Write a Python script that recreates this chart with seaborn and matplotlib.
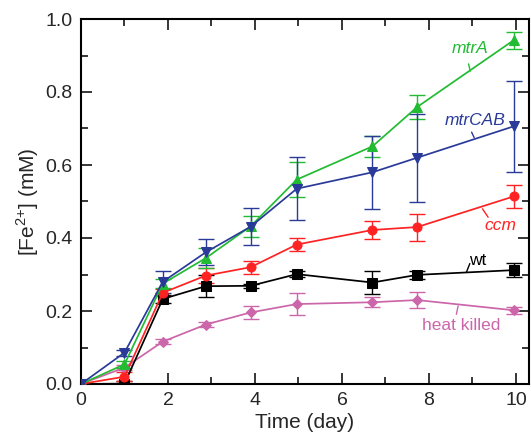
import numpy as np
import pandas as pd
import seaborn as sb
import matplotlib
matplotlib.use("Agg")
import matplotlib.pyplot as plt
from matplotlib.ticker import MultipleLocator

# sampling days
days = [0, 1.0, 1.88, 2.87, 3.9, 4.96, 6.7, 7.73, 9.95]

# mean [Fe2+] (mM) and error per strain
heat_killed = [0, 0.045, 0.116, 0.163, 0.196, 0.219, 0.224, 0.230, 0.202]
heat_killed_err = [0, 0.008, 0.006, 0.008, 0.018, 0.029, 0.014, 0.022, 0.010]
wt = [0, 0.001, 0.233, 0.268, 0.269, 0.301, 0.278, 0.299, 0.312]
wt_err = [0, 0.006, 0.012, 0.030, 0.005, 0.008, 0.032, 0.010, 0.020]
ccm = [0, 0.020, 0.250, 0.297, 0.320, 0.382, 0.422, 0.430, 0.514]
ccm_err = [0, 0.012, 0.010, 0.020, 0.018, 0.018, 0.024, 0.037, 0.032]
mtrA = [0, 0.054, 0.275, 0.345, 0.432, 0.560, 0.651, 0.759, 0.942]
mtrA_err = [0, 0.010, 0.012, 0.027, 0.028, 0.048, 0.029, 0.032, 0.023]
mtrCAB = [0, 0.086, 0.280, 0.361, 0.431, 0.535, 0.580, 0.620, 0.706]
mtrCAB_err = [0, 0.008, 0.030, 0.035, 0.050, 0.087, 0.100, 0.120, 0.124]

strains = ["heat killed", "wt", "ccm", "mtrA", "mtrCAB"]
means = [heat_killed, wt, ccm, mtrA, mtrCAB]
errs = [heat_killed_err, wt_err, ccm_err, mtrA_err, mtrCAB_err]
colors = ["#cc66aa", "#000000", "#ff2222", "#22bb33", "#2a3a99"]
markers = ["D", "s", "o", "^", "v"]

# label text position and leader line (text anchor, line start, line end) in data units
label_pos = {
    "mtrA": (8.94, 0.92, (8.91, 0.877), (8.95, 0.857)),
    "mtrCAB": (9.06, 0.723, (8.98, 0.690), (9.04, 0.675)),
    "ccm": (9.65, 0.434, (9.23, 0.480), (9.36, 0.457)),
    "wt": (9.13, 0.338, (8.94, 0.330), (8.86, 0.306)),
    "heat killed": (8.75, 0.159, (8.67, 0.214), (8.63, 0.191)),
}
label_italic = {"mtrA": True, "mtrCAB": True, "ccm": True, "wt": False, "heat killed": False}

rows = []
for s, m, e in zip(strains, means, errs):
    for d, v, ee in zip(days, m, e):
        rows.append({"day": d, "conc": v, "err": ee, "strain": s})
df = pd.DataFrame(rows)

sb.set_style("ticks")
plt.rcParams["font.family"] = ["Liberation Sans", "DejaVu Sans"]
plt.rcParams["mathtext.fontset"] = "custom"
plt.rcParams["mathtext.rm"] = "Liberation Sans"

fig = plt.figure(figsize=(5.31, 4.37), dpi=100)
ax = fig.add_axes([81 / 531, 53 / 437, 448 / 531, 365 / 437])

for s, c, mk in zip(strains, colors, markers):
    sub = df[df["strain"] == s]
    ax.errorbar(sub["day"], sub["conc"], yerr=sub["err"], fmt="none",
                ecolor=c, elinewidth=1.0, capsize=6, capthick=1.0, zorder=2)
    sb.lineplot(data=sub, x="day", y="conc", ax=ax, color=c, marker=mk,
                markersize=6.5 if mk != "D" else 5.5, markeredgecolor=c,
                linewidth=1.25, zorder=3, legend=False)

for s, c in zip(strains, colors):
    tx, ty, p0, p1 = label_pos[s]
    ax.text(tx, ty, s, color=c, fontsize=12.5, ha="center", va="center",
            style="italic" if label_italic[s] else "normal")
    ax.plot([p0[0], p1[0]], [p0[1], p1[1]], color=c, lw=1.0)

ax.set_xlim(0, 10.3)
ax.set_ylim(0, 1.0)
ax.xaxis.set_major_locator(MultipleLocator(2))
ax.xaxis.set_minor_locator(MultipleLocator(1))
ax.yaxis.set_major_locator(MultipleLocator(0.2))
ax.yaxis.set_minor_locator(MultipleLocator(0.1))
ax.set_xticks([0, 2, 4, 6, 8, 10])
ax.set_xticklabels(["0", "2", "4", "6", "8", "10"])
ax.set_yticks([0, 0.2, 0.4, 0.6, 0.8, 1.0])
ax.set_yticklabels(["0.0", "0.2", "0.4", "0.6", "0.8", "1.0"])
ax.tick_params(which="both", direction="in", top=True, right=True,
               width=1.3, labelsize=14, pad=6)
ax.tick_params(which="major", length=8)
ax.tick_params(which="minor", length=5)
for sp in ax.spines.values():
    sp.set_linewidth(1.5)
    sp.set_color("black")

ax.set_xlabel("Time (day)", fontsize=15, labelpad=3)
ax.set_ylabel(r"[Fe$^{\mathregular{2{+}}}$] (mM)", fontsize=15, labelpad=3)

fig.savefig("out.png", dpi=100)
